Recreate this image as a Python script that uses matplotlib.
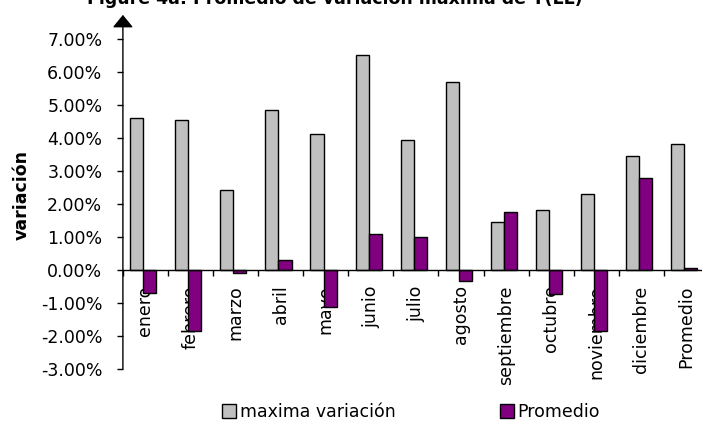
import matplotlib
matplotlib.use("Agg")
import matplotlib.pyplot as plt
from matplotlib.patches import Patch
from matplotlib.ticker import FuncFormatter, FixedLocator
import numpy as np

categories = ["enero", "febrero", "marzo", "abril", "mayo", "junio", "julio",
              "agosto", "septiembre", "octubre", "noviembre", "diciembre", "Promedio"]
maxima_variacion = [4.60, 4.55, 2.42, 4.85, 4.12, 6.51, 3.94, 5.70, 1.45, 1.81, 2.30, 3.45, 3.81]
promedio = [-0.69, -1.84, -0.08, 0.30, -1.11, 1.09, 1.01, -0.32, 1.75, -0.74, -1.84, 2.79, 0.05]
y_ticks = [-3, -2, -1, 0, 1, 2, 3, 4, 5, 6, 7]
series_names = ["maxima variación", "Promedio"]
title = "Figure 4a: Promedio de variación máxima de Y(LL)"
y_label = "variación"

plt.rcParams['font.family'] = ['DejaVu Sans']

W, H = 702, 424
fig = plt.figure(figsize=(W / 100, H / 100), dpi=100)
fig.patch.set_facecolor("white")

left_px, right_px = 122.9, 709.0
top_px, bottom_px = 39.3, 369.0
ax = fig.add_axes([left_px / W, 1 - bottom_px / H,
                   (right_px - left_px) / W, (bottom_px - top_px) / H])
ax.set_axisbelow(True)

x = np.arange(len(categories))
bw = 0.29
shift = -0.05
gray = "#C0C0C0"
purple = "#800080"
ax.bar(x + shift - bw / 2, maxima_variacion, width=bw, color=gray,
       edgecolor="black", linewidth=1.0, zorder=2)
ax.bar(x + shift + bw / 2, promedio, width=bw, color=purple,
       edgecolor="black", linewidth=1.0, zorder=2)

ax.set_xlim(-0.5, len(categories) - 0.5)
ax.set_ylim(-3, 7)

for s in ["top", "right", "left"]:
    ax.spines[s].set_visible(False)
ax.spines["bottom"].set_position(("data", 0))
ax.spines["bottom"].set_linewidth(1.0)
ax.spines["bottom"].set_zorder(3)

# y axis with arrow
ax.annotate("", xy=(-0.5, 7.74), xytext=(-0.5, -3.0),
            xycoords="data", textcoords="data",
            arrowprops=dict(arrowstyle="-|>,head_length=0.55,head_width=0.45",
                            color="black", lw=1.0, shrinkA=0, shrinkB=0,
                            mutation_scale=14),
            annotation_clip=False)

ax.yaxis.set_major_locator(FixedLocator(y_ticks))
ax.yaxis.set_major_formatter(FuncFormatter(lambda v, p: f"{v:.2f}%"))
ax.tick_params(axis="y", direction="out", length=4.3, width=1.0,
               pad=10.5, labelsize=12.5)

ax.set_xticks(x)
ax.set_xticklabels(categories, rotation=90, va="top", ha="center")
ax.set_xticks(np.arange(len(categories) + 1) - 0.5, minor=True)
ax.tick_params(axis="x", which="major", length=0, pad=11, labelsize=12.5)
ax.tick_params(axis="x", which="minor", direction="out", length=4.3, width=1.0)

fig.text(22 / W, 1 - 195 / H, y_label, rotation=90, fontweight="bold",
         fontsize=12.5, ha="center", va="center")

fig.text(335 / W, 1 - 4.5 / H, title, fontweight="bold", fontsize=12.5,
         ha="center", va="baseline")

handles = [Patch(facecolor=gray, edgecolor="black", linewidth=1.0),
           Patch(facecolor=purple, edgecolor="black", linewidth=1.0)]
fig.legend(handles, series_names, loc="center", bbox_to_anchor=(411 / W, 12 / H),
           ncol=2, frameon=False, fontsize=12.5, handlelength=0.8,
           handleheight=0.8, handletextpad=0.2, columnspacing=6.0,
           borderpad=0, borderaxespad=0)

fig.savefig("out.png", dpi=100, facecolor="white")
